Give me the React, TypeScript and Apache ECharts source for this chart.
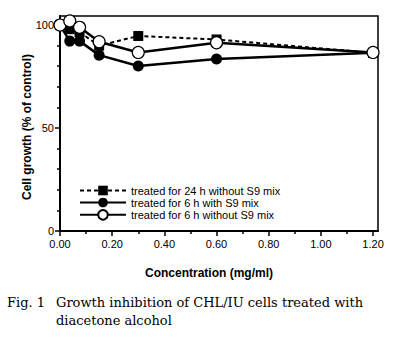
import React, { useEffect, useRef } from "react";
import * as echarts from "echarts";

const conc = [0, 0.0375, 0.075, 0.15, 0.3, 0.6, 1.2];
const s24NoS9 = [100, 98, 96.5, 90, 94.7, 93, 86.5];
const s6WithS9 = [100, 92.2, 92.2, 85.4, 80.1, 83.5, 86.5];
const s6NoS9 = [100, 102, 98.9, 91.9, 86.7, 91.4, 86.7];
const seriesNames = [
  "treated for 24 h without S9 mix",
  "treated for 6 h with S9 mix",
  "treated for 6 h without S9 mix",
];
const xMajor = [0, 0.2, 0.4, 0.6, 0.8, 1.0, 1.2];
const xMinor = [0.1, 0.3, 0.5, 0.7, 0.9, 1.1];
const yMajor = [0, 50, 100];
const yMinor = [10, 20, 30, 40, 60, 70, 80, 90];
const xTitle = "Concentration (mg/ml)";
const yTitle = "Cell growth (% of control)";
const captionLabel = "Fig. 1";
const captionLine1 = "Growth inhibition of CHL/IU cells treated with";
const captionLine2 = "diacetone alcohol";

const sansFont = "Liberation Sans, Arial, sans-serif";
const serifFont = "DejaVu Serif, serif";

export default function App() {
  const ref = useRef<HTMLDivElement>(null);
  useEffect(() => {
    if (!ref.current) return;
    const chart = echarts.init(ref.current, undefined, { renderer: "svg" });
    const pairs = (vals: number[]) => conc.map((c, i) => [c, vals[i]]);
    const xRange = { min: 0, max: 1.219 };
    const yRange = { min: 0, max: 104.4 };
    chart.setOption({
      animation: false,
      backgroundColor: "#fff",
      grid: {
        left: 60,
        right: 15,
        top: 16,
        bottom: 114,
        show: true,
        borderColor: "#000",
        borderWidth: 1.5,
        backgroundColor: "transparent",
      },
      legend: {
        orient: "vertical",
        left: 74,
        top: 180,
        itemWidth: 46,
        itemHeight: 12,
        itemGap: 1,
        textStyle: { fontFamily: sansFont, fontSize: 11, color: "#000" },
        data: seriesNames,
      },
      xAxis: [
        {
          type: "value",
          ...xRange,
          position: "bottom",
          splitLine: { show: false },
          axisLine: { lineStyle: { color: "#000", width: 2 } },
          axisTick: { customValues: xMajor, length: 5, lineStyle: { width: 1.5, color: "#000" } },
          axisLabel: {
            customValues: xMajor,
            formatter: (v: number) => v.toFixed(2),
            fontFamily: sansFont,
            fontSize: 11,
            color: "#000",
            margin: 7,
          },
        },
        {
          type: "value",
          ...xRange,
          position: "bottom",
          splitLine: { show: false },
          axisLine: { show: false },
          axisTick: { customValues: xMinor, length: 3, lineStyle: { width: 1.5, color: "#000" } },
          axisLabel: { show: false },
        },
      ],
      yAxis: [
        {
          type: "value",
          ...yRange,
          position: "left",
          splitLine: { show: false },
          axisLine: { show: true, lineStyle: { color: "#000", width: 2 } },
          axisTick: { show: true, customValues: yMajor, length: 5, lineStyle: { width: 1.5, color: "#000" } },
          axisLabel: {
            customValues: yMajor,
            fontFamily: sansFont,
            fontSize: 11,
            color: "#000",
            margin: 6,
          },
        },
        {
          type: "value",
          ...yRange,
          position: "left",
          splitLine: { show: false },
          axisLine: { show: false },
          axisTick: { show: true, customValues: yMinor, length: 3, lineStyle: { width: 1.5, color: "#000" } },
          axisLabel: { show: false },
        },
      ],
      series: [
        {
          name: seriesNames[0],
          type: "line",
          data: pairs(s24NoS9),
          symbol: "rect",
          symbolSize: 10,
          itemStyle: { color: "#000" },
          lineStyle: { color: "#000", width: 2, type: [4, 3] },
          clip: false,
        },
        {
          name: seriesNames[1],
          type: "line",
          data: pairs(s6WithS9),
          symbol: "circle",
          symbolSize: 11,
          itemStyle: { color: "#000" },
          lineStyle: { color: "#000", width: 2.5 },
          clip: false,
        },
        {
          name: seriesNames[2],
          type: "line",
          data: pairs(s6NoS9),
          symbol: "circle",
          symbolSize: 12,
          itemStyle: { color: "#fff", borderColor: "#000", borderWidth: 1.2 },
          lineStyle: { color: "#000", width: 2.5 },
          clip: false,
        },
      ],
      graphic: [
        {
          type: "text",
          x: 209,
          y: 273,
          style: {
            text: xTitle,
            font: `bold 12px ${sansFont}`,
            fill: "#000",
            align: "center",
            verticalAlign: "middle",
          },
        },
        {
          type: "text",
          x: 27,
          y: 127,
          rotation: Math.PI / 2,
          style: {
            text: yTitle,
            font: `bold 12px ${sansFont}`,
            fill: "#000",
            align: "center",
            verticalAlign: "middle",
          },
        },
        {
          type: "text",
          left: 7,
          top: 296,
          style: { text: captionLabel, font: `13px ${serifFont}`, fill: "#000" },
        },
        {
          type: "text",
          left: 56,
          top: 296,
          style: { text: captionLine1, font: `13px ${serifFont}`, fill: "#000" },
        },
        {
          type: "text",
          left: 56,
          top: 314,
          style: { text: captionLine2, font: `13px ${serifFont}`, fill: "#000" },
        },
      ],
    });
    return () => chart.dispose();
  }, []);
  return (
    <div
      ref={ref}
      style={{ position: "absolute", left: 0, top: 0, width: 393, height: 345, background: "#fff" }}
    />
  );
}
